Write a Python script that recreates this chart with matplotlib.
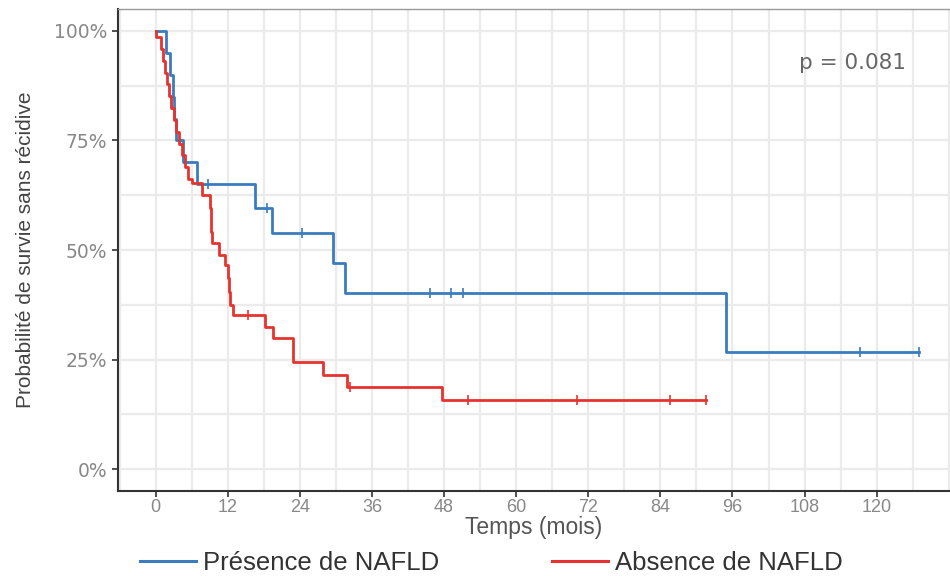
import matplotlib
matplotlib.use("Agg")
import matplotlib.pyplot as plt
import numpy as np
from matplotlib.ticker import MultipleLocator, FuncFormatter
from matplotlib.lines import Line2D

# ---- data (months, survival %) ----
blue_label = "Présence de NAFLD"
blue_times = [0, 1.7, 2.4, 2.9, 3.1, 3.3, 4.6, 6.9, 16.5, 19.4, 29.5, 31.5, 95.0, 127.0]
blue_surv = [100, 95.0, 90.0, 85.0, 80.0, 75.0, 70.0, 65.0, 59.6, 53.9, 47.0, 40.2, 26.7, 26.7]
blue_cens_t = [8.7, 18.5, 24.4, 45.7, 49.2, 51.2, 117.3, 127.0]

red_label = "Absence de NAFLD"
red_times = [0, 0.1, 0.9, 1.3, 1.6, 1.9, 2.2, 2.6, 3.0, 3.4, 3.9, 4.4, 4.9, 5.4, 6.0,
             7.7, 9.1, 9.15, 9.2, 9.3, 10.5, 11.6, 12.1, 12.2, 12.3, 12.9,
             18.2, 19.5, 22.8, 27.9, 31.8, 47.6, 91.6]
red_surv = [100, 98.6, 95.9, 93.2, 90.5, 87.8, 85.1, 82.4, 79.7, 77.0, 74.3, 71.6, 68.9, 66.2, 65.3,
            62.5, 59.5, 56.8, 54.1, 51.6, 48.9, 46.6, 43.5, 40.5, 37.4, 35.2,
            32.4, 29.9, 24.4, 21.5, 18.7, 15.8, 15.8]
red_cens_t = [15.4, 32.3, 52.0, 70.1, 85.6, 91.6]

x_ticks = [0, 12, 24, 36, 48, 60, 72, 84, 96, 108, 120]
y_ticks = [0, 25, 50, 75, 100]
p_text = "p = 0.081"

blue_color = "#3A7CBD"
red_color = "#E6332F"

narrow = ["Liberation Sans Narrow", "Liberation Sans", "DejaVu Sans"]

fig = plt.figure(figsize=(9.5, 5.76), dpi=100)
ax = fig.add_axes([118 / 950, 1 - 491 / 576, (950 - 118) / 950, (491 - 9) / 576])

def surv_at(times, surv, t):
    idx = np.searchsorted(times, t, side="right") - 1
    return np.asarray(surv)[idx]

for times, surv, cens, col in [(blue_times, blue_surv, blue_cens_t, blue_color),
                               (red_times, red_surv, red_cens_t, red_color)]:
    ax.step(times, surv, where="post", color=col, lw=2.0, zorder=3)
    cy = [surv_at(times, surv, t) for t in cens]
    ax.plot(cens, cy, ls="none", marker="|", ms=7, mew=1.2, color=col, zorder=4)

ax.set_xlim(-6.27, 132.2)
ax.set_ylim(-5.0, 105.0)
ax.xaxis.set_major_locator(plt.FixedLocator(x_ticks))
ax.yaxis.set_major_locator(plt.FixedLocator(y_ticks))
ax.xaxis.set_minor_locator(MultipleLocator(6))
ax.yaxis.set_minor_locator(MultipleLocator(12.5))
ax.yaxis.set_major_formatter(FuncFormatter(lambda v, p: f"{int(v)}%"))

ax.grid(which="both", color="#EBEBEB", lw=1.6, zorder=0)
ax.set_axisbelow(True)

ax.spines["right"].set_visible(False)
ax.spines["top"].set_color("#999999")
ax.spines["top"].set_linewidth(1.0)
for s in ["left", "bottom"]:
    ax.spines[s].set_color("#333333")
    ax.spines[s].set_linewidth(1.5)

ax.tick_params(which="minor", length=0)
ax.tick_params(which="major", length=4, width=1.2, color="#333333")
ax.tick_params(axis="y", labelsize=13.5, labelcolor="#888888", pad=4)
ax.tick_params(axis="x", labelsize=13, labelcolor="#888888", pad=2)
for lab in ax.get_xticklabels():
    lab.set_family(narrow)

ax.set_xlabel("Temps (mois)", fontsize=16.5, color="#555555", family=narrow, labelpad=0)
ax.set_ylabel("Probabilité de survie sans récidive", fontsize=15, color="#444444",
              family=narrow)
ax.yaxis.set_label_coords(-0.1, 0.5)

ax.text(107, 92.7, p_text, fontsize=15.5, color="#666666", va="center", ha="left")

handles = [Line2D([], [], color=blue_color, lw=2.2), Line2D([], [], color=red_color, lw=2.2)]
fig.legend(handles, [blue_label, red_label], loc="center", bbox_to_anchor=(0.517, 1 - 563 / 576),
           ncol=2, frameon=False, handlelength=2.2, handletextpad=0.25,
           columnspacing=4.4, prop={"family": narrow, "size": 18.5}, labelcolor="#333333")

fig.savefig("out.png", dpi=100)
